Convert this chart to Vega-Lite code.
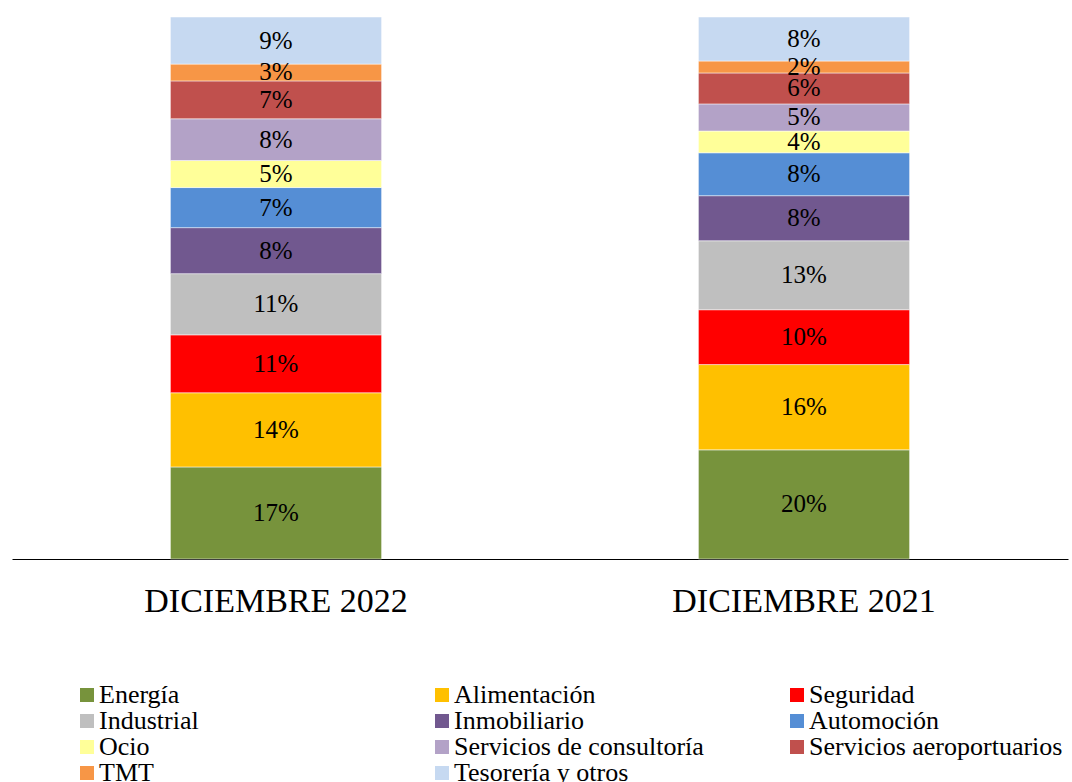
{
  "$schema": "https://vega.github.io/schema/vega-lite/v6.json",
  "autosize": "none",
  "width": 1056,
  "height": 542,
  "padding": {"left": 12, "top": 17, "right": 4, "bottom": 223},
  "background": "white",
  "config": {"view": {"stroke": null}, "font": "Liberation Serif", "axis": {"labelFont": "Liberation Serif"}, "legend": {"labelFont": "Liberation Serif"}},
  "data": {
    "values": [
      {"anio": "DICIEMBRE 2022", "sector": "Energía", "orden": 1, "valor": 17.0, "etiqueta": "17%"},
      {"anio": "DICIEMBRE 2022", "sector": "Alimentación", "orden": 2, "valor": 13.7, "etiqueta": "14%"},
      {"anio": "DICIEMBRE 2022", "sector": "Seguridad", "orden": 3, "valor": 10.7, "etiqueta": "11%"},
      {"anio": "DICIEMBRE 2022", "sector": "Industrial", "orden": 4, "valor": 11.3, "etiqueta": "11%"},
      {"anio": "DICIEMBRE 2022", "sector": "Inmobiliario", "orden": 5, "valor": 8.5, "etiqueta": "8%"},
      {"anio": "DICIEMBRE 2022", "sector": "Automoción", "orden": 6, "valor": 7.4, "etiqueta": "7%"},
      {"anio": "DICIEMBRE 2022", "sector": "Ocio", "orden": 7, "valor": 5.0, "etiqueta": "5%"},
      {"anio": "DICIEMBRE 2022", "sector": "Servicios de consultoría", "orden": 8, "valor": 7.7, "etiqueta": "8%"},
      {"anio": "DICIEMBRE 2022", "sector": "Servicios aeroportuarios", "orden": 9, "valor": 7.0, "etiqueta": "7%"},
      {"anio": "DICIEMBRE 2022", "sector": "TMT", "orden": 10, "valor": 3.1, "etiqueta": "3%"},
      {"anio": "DICIEMBRE 2022", "sector": "Tesorería y otros", "orden": 11, "valor": 8.7, "etiqueta": "9%"},
      {"anio": "DICIEMBRE 2021", "sector": "Energía", "orden": 1, "valor": 20.1, "etiqueta": "20%"},
      {"anio": "DICIEMBRE 2021", "sector": "Alimentación", "orden": 2, "valor": 15.7, "etiqueta": "16%"},
      {"anio": "DICIEMBRE 2021", "sector": "Seguridad", "orden": 3, "valor": 10.1, "etiqueta": "10%"},
      {"anio": "DICIEMBRE 2021", "sector": "Industrial", "orden": 4, "valor": 12.7, "etiqueta": "13%"},
      {"anio": "DICIEMBRE 2021", "sector": "Inmobiliario", "orden": 5, "valor": 8.3, "etiqueta": "8%"},
      {"anio": "DICIEMBRE 2021", "sector": "Automoción", "orden": 6, "valor": 7.9, "etiqueta": "8%"},
      {"anio": "DICIEMBRE 2021", "sector": "Ocio", "orden": 7, "valor": 4.0, "etiqueta": "4%"},
      {"anio": "DICIEMBRE 2021", "sector": "Servicios de consultoría", "orden": 8, "valor": 5.0, "etiqueta": "5%"},
      {"anio": "DICIEMBRE 2021", "sector": "Servicios aeroportuarios", "orden": 9, "valor": 5.7, "etiqueta": "6%"},
      {"anio": "DICIEMBRE 2021", "sector": "TMT", "orden": 10, "valor": 2.2, "etiqueta": "2%"},
      {"anio": "DICIEMBRE 2021", "sector": "Tesorería y otros", "orden": 11, "valor": 8.1, "etiqueta": "8%"}
    ]
  },
  "transform": [
    {"stack": "valor", "groupby": ["anio"], "sort": [{"field": "orden", "order": "ascending"}], "as": ["y0", "y1"], "offset": "normalize"},
    {"calculate": "(datum.y0 + datum.y1) / 2", "as": "ymid"}
  ],
  "encoding": {
    "x": {
      "field": "anio",
      "type": "nominal",
      "sort": ["DICIEMBRE 2022", "DICIEMBRE 2021"],
      "scale": {"paddingInner": 0.6, "paddingOuter": 0.3},
      "axis": {
        "title": null,
        "labelAngle": 0,
        "ticks": false,
        "labelFont": "Liberation Serif",
        "labelFontSize": 34,
        "labelFontWeight": "normal",
        "labelLimit": 0,
        "labelColor": "black",
        "labelPadding": 25,
        "domainColor": "black",
        "domainWidth": 1
      }
    }
  },
  "layer": [
    {
      "mark": {"type": "bar", "stroke": "white", "strokeWidth": 0.5},
      "encoding": {
        "y": {"field": "y0", "type": "quantitative", "scale": {"domain": [0, 1]}, "axis": null},
        "y2": {"field": "y1"},
        "color": {
          "field": "sector",
          "type": "nominal",
          "sort": ["Energía", "Alimentación", "Seguridad", "Industrial", "Inmobiliario", "Automoción", "Ocio", "Servicios de consultoría", "Servicios aeroportuarios", "TMT", "Tesorería y otros"],
          "scale": {
            "domain": ["Energía", "Alimentación", "Seguridad", "Industrial", "Inmobiliario", "Automoción", "Ocio", "Servicios de consultoría", "Servicios aeroportuarios", "TMT", "Tesorería y otros"],
            "range": ["#77933C", "#FFC000", "#FF0000", "#BFBFBF", "#71588F", "#558ED5", "#FFFF99", "#B3A2C7", "#C0504D", "#F79646", "#C6D9F1"]
          },
          "legend": {
            "title": null,
            "orient": "none",
            "legendX": 62,
            "legendY": 665,
            "direction": "horizontal",
            "columns": 3,
            "gridAlign": "all",
            "columnPadding": 76,
            "rowPadding": -2,
            "symbolType": "square",
            "symbolSize": 196,
            "symbolStrokeWidth": 0,
            "symbolOpacity": 1,
            "symbolOffset": 0,
            "labelFont": "Liberation Serif",
            "labelFontSize": 26,
            "labelColor": "black",
            "labelOffset": -1,
            "labelLimit": 400
          }
        }
      }
    },
    {
      "mark": {"type": "text", "font": "Liberation Serif", "fontSize": 25, "color": "black", "baseline": "middle"},
      "encoding": {
        "y": {"field": "ymid", "type": "quantitative", "scale": {"domain": [0, 1]}, "axis": null},
        "text": {"field": "etiqueta", "type": "nominal"}
      }
    }
  ]
}
